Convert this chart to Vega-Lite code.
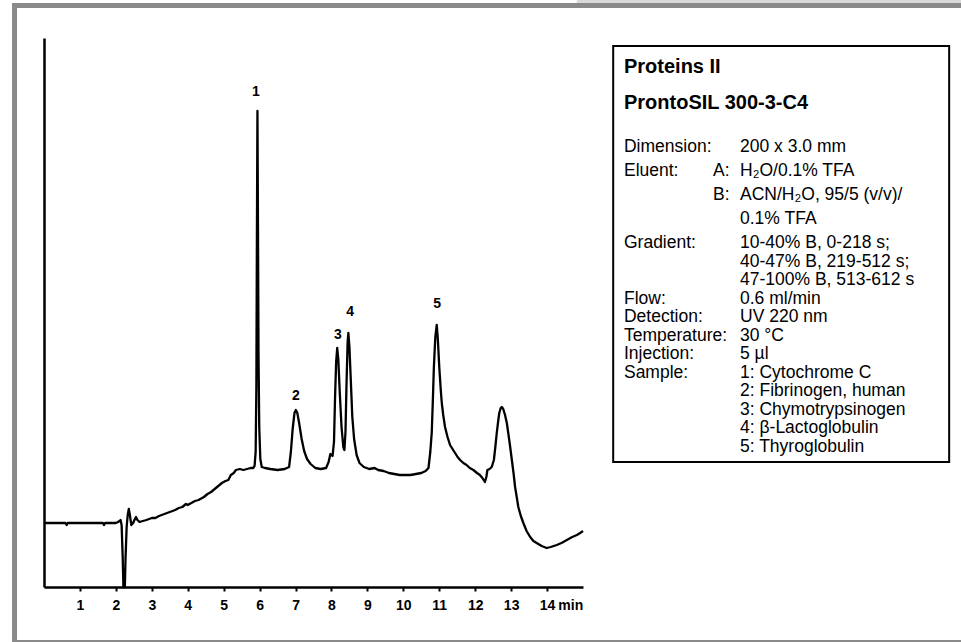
{
  "$schema": "https://vega.github.io/schema/vega-lite/v6.json",
  "width": 539,
  "height": 549,
  "autosize": {"type": "none"},
  "padding": {"left": 44, "top": 38, "right": 378, "bottom": 55},
  "background": "white",
  "config": {
    "view": {"stroke": null},
    "font": "Liberation Sans",
    "axisX": {"domainColor": "black", "domainWidth": 2.5, "tickColor": "black", "tickWidth": 2, "tickSize": 4, "labelFont": "Liberation Sans", "labelFontSize": 14, "labelFontWeight": "bold", "labelColor": "black", "labelPadding": 7, "grid": false},
    "axisY": {"domainColor": "black", "domainWidth": 2.5, "ticks": false, "labels": false, "grid": false}
  },
  "datasets": {
    "trace": [
      {"t":0,"v":64},{"t":0.3,"v":64},{"t":0.6,"v":64},{"t":0.63,"v":62},{"t":0.66,"v":64},{"t":1.0,"v":64},{"t":1.3,"v":64},{"t":1.64,"v":64},{"t":1.67,"v":62},{"t":1.7,"v":64},{"t":2.0,"v":64},{"t":2.06,"v":65},
      {"t":2.1,"v":66},{"t":2.13,"v":67},{"t":2.16,"v":62},{"t":2.19,"v":30},{"t":2.21,"v":0},{"t":2.25,"v":0},{"t":2.27,"v":30},{"t":2.30,"v":60},{"t":2.33,"v":72},{"t":2.36,"v":78},{"t":2.39,"v":72},{"t":2.43,"v":62},{"t":2.48,"v":64},{"t":2.53,"v":68},{"t":2.56,"v":70},{"t":2.6,"v":67},{"t":2.66,"v":65},{"t":2.75,"v":66},{"t":2.85,"v":67},{"t":3.0,"v":69},{"t":3.1,"v":69},{"t":3.2,"v":71},{"t":3.35,"v":73},{"t":3.5,"v":75},{"t":3.65,"v":77},{"t":3.75,"v":79},{"t":3.85,"v":80},{"t":3.95,"v":83},{"t":4.0,"v":82},{"t":4.1,"v":84},{"t":4.2,"v":86},{"t":4.3,"v":87},{"t":4.45,"v":90},{"t":4.55,"v":93},{"t":4.65,"v":95},{"t":4.75,"v":98},{"t":4.85,"v":101},{"t":4.95,"v":104},{"t":5.05,"v":106},{"t":5.13,"v":107},{"t":5.2,"v":112},{"t":5.28,"v":114},{"t":5.34,"v":117},{"t":5.45,"v":118},{"t":5.55,"v":117},{"t":5.65,"v":118},{"t":5.75,"v":119},{"t":5.82,"v":119},{"t":5.86,"v":121},{"t":5.89,"v":135},{"t":5.91,"v":200},{"t":5.925,"v":350},{"t":5.94,"v":476},{"t":5.955,"v":360},{"t":5.97,"v":230},{"t":5.99,"v":160},{"t":6.02,"v":128},{"t":6.06,"v":120},{"t":6.15,"v":119},{"t":6.3,"v":118},{"t":6.5,"v":117},{"t":6.7,"v":118},{"t":6.82,"v":120},{"t":6.87,"v":135},{"t":6.92,"v":158},{"t":6.97,"v":174},{"t":7.01,"v":177},{"t":7.05,"v":174},{"t":7.10,"v":164},{"t":7.17,"v":148},{"t":7.24,"v":136},{"t":7.32,"v":128},{"t":7.42,"v":123},{"t":7.55,"v":119},{"t":7.70,"v":118},{"t":7.85,"v":119},{"t":7.92,"v":125},{"t":7.97,"v":133},{"t":8.03,"v":131},{"t":8.07,"v":145},{"t":8.10,"v":190},{"t":8.13,"v":225},{"t":8.16,"v":239},{"t":8.19,"v":228},{"t":8.23,"v":195},{"t":8.28,"v":160},{"t":8.33,"v":140},{"t":8.36,"v":137},{"t":8.39,"v":155},{"t":8.42,"v":205},{"t":8.45,"v":245},{"t":8.47,"v":254},{"t":8.50,"v":240},{"t":8.54,"v":205},{"t":8.58,"v":170},{"t":8.63,"v":148},{"t":8.70,"v":132},{"t":8.78,"v":124},{"t":8.90,"v":120},{"t":9.05,"v":118},{"t":9.2,"v":119},{"t":9.3,"v":117},{"t":9.45,"v":116},{"t":9.6,"v":114},{"t":9.75,"v":113},{"t":9.9,"v":112},{"t":10.05,"v":112},{"t":10.2,"v":112},{"t":10.35,"v":113},{"t":10.5,"v":114},{"t":10.62,"v":116},{"t":10.70,"v":119},{"t":10.75,"v":135},{"t":10.79,"v":154},{"t":10.82,"v":185},{"t":10.85,"v":220},{"t":10.89,"v":250},{"t":10.93,"v":262},{"t":10.96,"v":248},{"t":11.0,"v":220},{"t":11.04,"v":198},{"t":11.07,"v":184},{"t":11.11,"v":172},{"t":11.16,"v":160},{"t":11.23,"v":150},{"t":11.30,"v":142},{"t":11.37,"v":138},{"t":11.44,"v":134},{"t":11.51,"v":130},{"t":11.58,"v":127},{"t":11.67,"v":124},{"t":11.76,"v":122},{"t":11.85,"v":119},{"t":11.95,"v":117},{"t":12.05,"v":114},{"t":12.13,"v":112},{"t":12.2,"v":109},{"t":12.27,"v":105},{"t":12.31,"v":110},{"t":12.34,"v":117},{"t":12.40,"v":118},{"t":12.46,"v":120},{"t":12.52,"v":127},{"t":12.56,"v":140},{"t":12.60,"v":154},{"t":12.64,"v":166},{"t":12.67,"v":174},{"t":12.71,"v":179},{"t":12.74,"v":180},{"t":12.78,"v":178},{"t":12.83,"v":172},{"t":12.88,"v":164},{"t":12.92,"v":154},{"t":12.97,"v":141},{"t":13.02,"v":127},{"t":13.07,"v":113},{"t":13.11,"v":100},{"t":13.16,"v":89},{"t":13.20,"v":80},{"t":13.27,"v":71},{"t":13.34,"v":64},{"t":13.43,"v":56},{"t":13.53,"v":50},{"t":13.62,"v":46},{"t":13.71,"v":44},{"t":13.85,"v":41},{"t":13.99,"v":39},{"t":14.1,"v":40},{"t":14.27,"v":42},{"t":14.4,"v":44},{"t":14.55,"v":47},{"t":14.7,"v":50},{"t":14.83,"v":52},{"t":14.92,"v":54},{"t":15.0,"v":56}
    ],
    "peaks": [
      {"text":"1","t":5.9,"v":495},
      {"text":"2","t":7.01,"v":191},
      {"text":"3","t":8.18,"v":252},
      {"text":"4","t":8.52,"v":275},
      {"text":"5","t":10.94,"v":283}
    ],
    "titles": [
      {"text":"Proteins II","t":16.14,"v":520},
      {"text":"ProntoSIL 300-3-C4","t":16.14,"v":484}
    ],
    "body": [
      {"text":"Dimension:","t":16.14,"v":440},
      {"text":"200 x 3.0 mm","t":19.37,"v":440},
      {"text":"Eluent:","t":16.14,"v":416},
      {"text":"A:","t":18.62,"v":416},
      {"text":"H₂O/0.1% TFA","t":19.37,"v":416},
      {"text":"B:","t":18.62,"v":392},
      {"text":"ACN/H₂O, 95/5 (v/v)/","t":19.37,"v":392},
      {"text":"0.1% TFA","t":19.37,"v":368},
      {"text":"Gradient:","t":16.14,"v":344},
      {"text":"10-40% B, 0-218 s;","t":19.37,"v":344},
      {"text":"40-47% B, 219-512 s;","t":19.37,"v":325.5},
      {"text":"47-100% B, 513-612 s","t":19.37,"v":307},
      {"text":"Flow:","t":16.14,"v":288.5},
      {"text":"0.6 ml/min","t":19.37,"v":288.5},
      {"text":"Detection:","t":16.14,"v":270},
      {"text":"UV 220 nm","t":19.37,"v":270},
      {"text":"Temperature:","t":16.14,"v":251.5},
      {"text":"30 °C","t":19.37,"v":251.5},
      {"text":"Injection:","t":16.14,"v":233},
      {"text":"5 µl","t":19.37,"v":233},
      {"text":"Sample:","t":16.14,"v":214.5},
      {"text":"1: Cytochrome C","t":19.37,"v":214.5},
      {"text":"2: Fibrinogen, human","t":19.37,"v":196},
      {"text":"3: Chymotrypsinogen","t":19.37,"v":177.5},
      {"text":"4: β-Lactoglobulin","t":19.37,"v":159},
      {"text":"5: Thyroglobulin","t":19.37,"v":140.5}
    ]
  },
  "layer": [
    {
      "data": {"values": [{}]},
      "mark": {"type": "rect", "fill": "#dadada"},
      "encoding": {
        "x": {"datum": 14.83, "type": "quantitative", "scale": {"domain": [0, 15], "nice": false, "zero": false}, "axis": {"title": null, "values": [1,2,3,4,5,6,7,8,9,10,11,12,13,14]}},
        "x2": {"datum": 30},
        "y": {"datum": 583.7, "type": "quantitative", "scale": {"domain": [0, 549], "nice": false, "zero": false}, "axis": {"title": null}},
        "y2": {"datum": 600}
      }
    },
    {
      "data": {"values": [{}]},
      "mark": {"type": "rect", "fillOpacity": 0, "stroke": "#8a8a8a", "strokeWidth": 5},
      "encoding": {
        "x": {"datum": -0.82, "type": "quantitative", "scale": {"domain": [0, 15], "nice": false, "zero": false}, "axis": {"title": null, "values": [1,2,3,4,5,6,7,8,9,10,11,12,13,14]}},
        "x2": {"datum": 30},
        "y": {"datum": 581.5, "type": "quantitative", "scale": {"domain": [0, 549], "nice": false, "zero": false}, "axis": {"title": null}},
        "y2": {"datum": -55.5}
      }
    },
    {
      "data": {"values": [{}]},
      "mark": {"type": "rect", "fill": "white", "stroke": "black", "strokeWidth": 2},
      "encoding": {
        "x": {"datum": 15.84, "type": "quantitative", "scale": {"domain": [0, 15], "nice": false, "zero": false}, "axis": {"title": null, "values": [1,2,3,4,5,6,7,8,9,10,11,12,13,14]}},
        "x2": {"datum": 25.19},
        "y": {"datum": 541, "type": "quantitative", "scale": {"domain": [0, 549], "nice": false, "zero": false}, "axis": {"title": null}},
        "y2": {"datum": 125}
      }
    },
    {
      "data": {"name": "trace"},
      "mark": {"type": "line", "color": "black", "strokeWidth": 2.3, "strokeJoin": "round"},
      "encoding": {
        "x": {"field": "t", "type": "quantitative", "scale": {"domain": [0, 15], "nice": false, "zero": false}, "axis": {"title": null, "values": [1,2,3,4,5,6,7,8,9,10,11,12,13,14]}},
        "y": {"field": "v", "type": "quantitative", "scale": {"domain": [0, 549], "nice": false, "zero": false}, "axis": {"title": null}}
      }
    },
    {
      "data": {"name": "peaks"},
      "mark": {"type": "text", "font": "Liberation Sans", "fontSize": 14, "fontWeight": "bold", "color": "black", "align": "center", "baseline": "middle"},
      "encoding": {
        "x": {"field": "t", "type": "quantitative", "scale": {"domain": [0, 15], "nice": false, "zero": false}, "axis": {"title": null, "values": [1,2,3,4,5,6,7,8,9,10,11,12,13,14]}},
        "y": {"field": "v", "type": "quantitative", "scale": {"domain": [0, 549], "nice": false, "zero": false}, "axis": {"title": null}},
        "text": {"field": "text"}
      }
    },
    {
      "data": {"name": "titles"},
      "mark": {"type": "text", "font": "Liberation Sans", "fontSize": 20, "fontWeight": "bold", "color": "black", "align": "left", "baseline": "middle"},
      "encoding": {
        "x": {"field": "t", "type": "quantitative", "scale": {"domain": [0, 15], "nice": false, "zero": false}, "axis": {"title": null, "values": [1,2,3,4,5,6,7,8,9,10,11,12,13,14]}},
        "y": {"field": "v", "type": "quantitative", "scale": {"domain": [0, 549], "nice": false, "zero": false}, "axis": {"title": null}},
        "text": {"field": "text"}
      }
    },
    {
      "data": {"name": "body"},
      "mark": {"type": "text", "font": "Liberation Sans", "fontSize": 17.5, "color": "black", "align": "left", "baseline": "middle"},
      "encoding": {
        "x": {"field": "t", "type": "quantitative", "scale": {"domain": [0, 15], "nice": false, "zero": false}, "axis": {"title": null, "values": [1,2,3,4,5,6,7,8,9,10,11,12,13,14]}},
        "y": {"field": "v", "type": "quantitative", "scale": {"domain": [0, 549], "nice": false, "zero": false}, "axis": {"title": null}},
        "text": {"field": "text"}
      }
    },
    {
      "data": {"values": [{}]},
      "mark": {"type": "text", "font": "Liberation Sans", "fontSize": 14, "fontWeight": "bold", "color": "black", "align": "center", "baseline": "middle"},
      "encoding": {
        "x": {"datum": 14.66, "type": "quantitative", "scale": {"domain": [0, 15], "nice": false, "zero": false}, "axis": {"title": null, "values": [1,2,3,4,5,6,7,8,9,10,11,12,13,14]}},
        "y": {"datum": -19, "type": "quantitative", "scale": {"domain": [0, 549], "nice": false, "zero": false}, "axis": {"title": null}},
        "text": {"value": "min"}
      }
    }
  ]
}
